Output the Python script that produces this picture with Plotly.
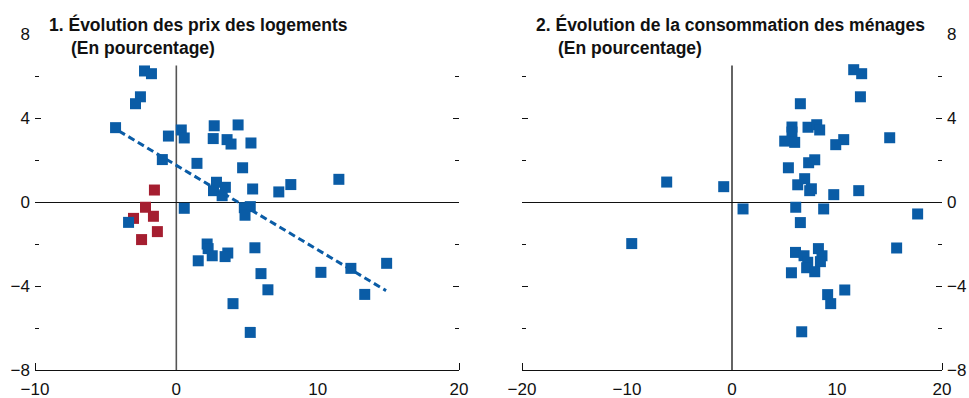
import plotly.graph_objects as go

# ---------------- Data ----------------
# Panel 1: house price change (x) vs. y
p1_blue_x = [-2.25, -1.76, -2.54, -2.89, -4.30, -0.56, 0.35, 0.56, 2.68, 4.37,
             2.61, 3.59, 3.87, 5.28, -0.99, 1.46, 4.69, 2.84, 3.47, 2.63,
             3.24, 5.40, 7.25, 8.10, 11.50, 0.56, 4.81, 5.23, 4.86, -3.38,
             2.18, 2.25, 2.54, 3.64, 3.45, 1.55, 5.56, 5.99, 6.48, 4.01,
             5.23, 10.23, 12.35, 14.88, 13.33]
p1_blue_y = [6.24, 6.11, 5.01, 4.68, 3.54, 3.14, 3.43, 3.05, 3.63, 3.67,
             3.02, 2.97, 2.76, 2.81, 2.02, 1.84, 1.63, 0.94, 0.70, 0.54,
             0.30, 0.62, 0.48, 0.83, 1.08, -0.30, -0.27, -0.22, -0.63, -0.97,
             -2.00, -2.22, -2.56, -2.43, -2.60, -2.80, -2.18, -3.41, -4.18, -4.84,
             -6.21, -3.35, -3.16, -2.92, -4.40]
p1_red_x = [-1.55, -2.18, -3.03, -1.62, -1.34, -2.46]
p1_red_y = [0.57, -0.25, -0.78, -0.68, -1.41, -1.79]
p1_trend_x = [-4.06, 14.84]
p1_trend_y = [3.38, -4.22]

# Panel 2: household consumption change (x) vs. y
p2_x = [11.59, 12.35, 12.23, 6.51, 5.71, 5.71, 7.24, 8.07, 8.35, 5.02,
        5.97, 10.64, 9.88, 15.02, 7.88, 7.30, 5.37, 6.92, 6.26, 7.56,
        7.40, 9.69, 12.07, -6.22, -0.79, 1.05, 6.07, 8.73, 17.68, 6.51,
        15.68, 8.23, 6.05, 6.86, 8.57, 7.21, 8.42, 7.11, 7.88, 5.66,
        10.74, 9.11, 9.40, 6.64, -9.55]
p2_y = [6.30, 6.11, 5.01, 4.68, 3.57, 3.33, 3.56, 3.68, 3.43, 2.90,
        2.84, 2.97, 2.73, 3.06, 2.01, 1.87, 1.63, 1.11, 0.82, 0.63,
        0.54, 0.35, 0.54, 0.95, 0.73, -0.33, -0.25, -0.33, -0.57, -0.98,
        -2.19, -2.22, -2.40, -2.56, -2.56, -2.87, -2.84, -3.13, -3.32, -3.37,
        -4.19, -4.41, -4.84, -6.18, -1.98]

x1_ticks = [-10, 0, 10, 20]
x1_text = ["−10", "0", "10", "20"]
x2_ticks = [-20, -10, 0, 10, 20]
x2_text = ["−20", "−10", "0", "10", "20"]
y_ticks = [-8, -4, 0, 4, 8]
y_text = ["−8", "−4", "0", "4", "8"]
y_minor = [-6, -2, 2, 6]

title1 = "1. Évolution des prix des logements"
title2 = "2. Évolution de la consommation des ménages"
subtitle = "(En pourcentage)"

# ---------------- Style ----------------
BLUE = "#0A5CA6"
RED = "#A51E30"
FONT = "Liberation Sans, Arial, sans-serif"
W, H = 969, 398

fig = go.Figure()

fig.add_trace(go.Scatter(x=p1_red_x, y=p1_red_y, mode="markers",
                         marker=dict(symbol="square", size=11, color=RED),
                         xaxis="x", yaxis="y", showlegend=False))
fig.add_trace(go.Scatter(x=p1_blue_x, y=p1_blue_y, mode="markers",
                         marker=dict(symbol="square", size=11, color=BLUE),
                         xaxis="x", yaxis="y", showlegend=False))
fig.add_trace(go.Scatter(x=p1_trend_x, y=p1_trend_y, mode="lines",
                         line=dict(color=BLUE, width=3, dash="7px,4px"),
                         xaxis="x", yaxis="y", showlegend=False))
fig.add_trace(go.Scatter(x=p2_x, y=p2_y, mode="markers",
                         marker=dict(symbol="square", size=11, color=BLUE),
                         xaxis="x2", yaxis="y2", showlegend=False))

ydom = [1 - 370 / H, 1 - 34 / H]
tickfont = dict(family=FONT, size=17, color="#111")

def xax(dom, rng, vals, text, anchor):
    return dict(domain=dom, range=rng, anchor=anchor, showgrid=False, zeroline=False,
                showline=True, linecolor="#111", linewidth=1.3,
                tickmode="array", tickvals=vals, ticktext=text, ticks="",
                tickfont=tickfont, ticklabelstandoff=3,
                minor=dict(tickmode="array", tickvals=[rng[0], rng[1]], ticks="inside",
                           ticklen=7, tickwidth=1.3, tickcolor="#111"),
                fixedrange=True)

def yax(anchor, side):
    return dict(domain=ydom, range=[-8, 8], anchor=anchor, side=side,
                showgrid=False, zeroline=True, zerolinecolor="#111", zerolinewidth=1.3,
                showline=False, mirror="ticks",
                tickmode="array", tickvals=y_ticks, ticktext=y_text,
                ticks="inside", ticklen=6, tickwidth=1.2, tickcolor="#111",
                tickfont=tickfont, ticklabelstandoff=4,
                minor=dict(tickmode="array", tickvals=y_minor, ticks="inside",
                           ticklen=4, tickwidth=1.2, tickcolor="#111"),
                fixedrange=True)

TFONT = dict(family=FONT, size=17.5, color="#111")

fig.update_layout(
    width=W, height=H, template="none",
    paper_bgcolor="white", plot_bgcolor="white",
    margin=dict(l=0, r=0, t=0, b=0),
    xaxis=xax([35 / W, 459 / W], [-10, 20], x1_ticks, x1_text, "y"),
    yaxis=yax("x", "left"),
    xaxis2=xax([522 / W, 942 / W], [-20, 20], x2_ticks, x2_text, "y2"),
    yaxis2=yax("x2", "right"),
    shapes=[
        dict(type="line", xref="x", yref="y", x0=0, x1=0, y0=-8, y1=6.5,
             line=dict(color="#555", width=1.6), layer="below"),
        dict(type="line", xref="x2", yref="y2", x0=0, x1=0, y0=-8, y1=6.5,
             line=dict(color="#111", width=1.3), layer="below"),
    ],
    annotations=[
        dict(text="<b>" + title1 + "</b>", xref="paper", yref="paper",
             x=47 / W, y=1 - 25 / H, xanchor="left", yanchor="middle", showarrow=False,
             font=TFONT),
        dict(text="<b>" + subtitle + "</b>", xref="paper", yref="paper",
             x=69 / W, y=1 - 48 / H, xanchor="left", yanchor="middle", showarrow=False,
             font=TFONT),
        dict(text="<b>" + title2 + "</b>", xref="paper", yref="paper",
             x=534 / W, y=1 - 25 / H, xanchor="left", yanchor="middle", showarrow=False,
             font=TFONT),
        dict(text="<b>" + subtitle + "</b>", xref="paper", yref="paper",
             x=556 / W, y=1 - 48 / H, xanchor="left", yanchor="middle", showarrow=False,
             font=TFONT),
    ],
)

fig.write_html("out.html", config={"displayModeBar": False},
               post_script="document.body.style.margin='0';document.body.style.overflow='hidden';")
